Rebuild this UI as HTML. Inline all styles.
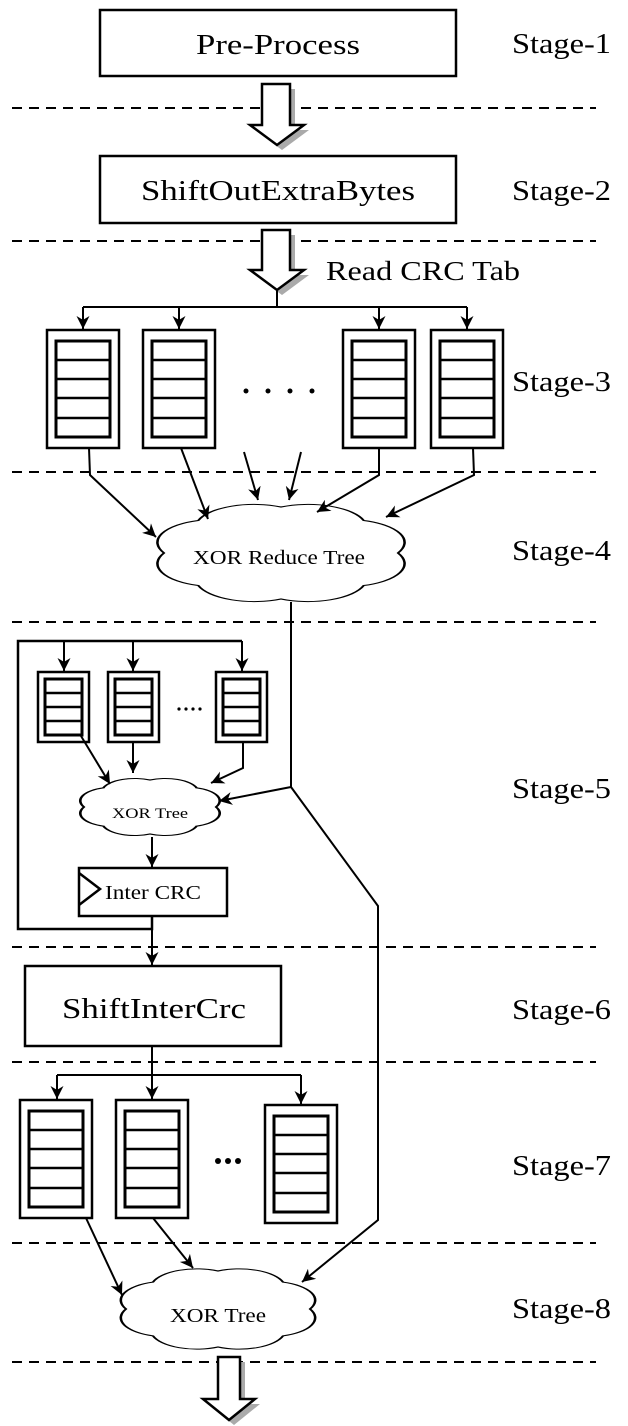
<!DOCTYPE html>
<html><head><style>html,body{margin:0;padding:0;background:#fff}svg{display:block}text{font-family:"Liberation Serif",serif;fill:#000}</style></head>
<body>
<svg width="628" height="1426" viewBox="0 0 628 1426" xmlns="http://www.w3.org/2000/svg">
<defs>
<marker id="a" markerWidth="13" markerHeight="13" refX="10" refY="5" orient="auto" markerUnits="userSpaceOnUse" viewBox="0 0 10 10">
<path d="M0,0 L10,5 L0,10 L3,5 z" fill="#000"/></marker>
<path id="cl" d="M-1,0 A0.5,0.5 0 0 1 -0.707,-0.707 A0.5,0.5 0 0 1 0,-1 A0.5,0.5 0 0 1 0.707,-0.707 A0.5,0.5 0 0 1 1,0 A0.5,0.5 0 0 1 0.707,0.707 A0.5,0.5 0 0 1 0,1 A0.5,0.5 0 0 1 -0.707,0.707 A0.5,0.5 0 0 1 -1,0 Z"/>
<g id="q5"><rect x="0" y="0" width="72" height="118" fill="#fff" stroke="#000" stroke-width="2.5"/><rect x="9" y="11" width="54" height="96" fill="#fff" stroke="#000" stroke-width="3"/><path d="M9,30 H63 M9,49 H63 M9,68 H63 M9,88 H63" stroke="#000" stroke-width="2.5"/></g>
<g id="q4"><rect x="0" y="0" width="51" height="70" fill="#fff" stroke="#000" stroke-width="2.5"/><rect x="7" y="7" width="37" height="56" fill="#fff" stroke="#000" stroke-width="3"/><path d="M7,21 H44 M7,35 H44 M7,49 H44" stroke="#000" stroke-width="2.5"/></g>
</defs>
<g stroke="#000" stroke-width="2" stroke-dasharray="10,7">
<path d="M12,108 H596 M12,241 H596 M12,472 H596 M12,622 H596 M12,947 H596 M12,1062 H596 M12,1243 H596 M12,1362 H596"/>
</g>
<!-- stage 1 -->
<rect x="100" y="10" width="356" height="66" fill="#fff" stroke="#000" stroke-width="2.5"/>
<text x="196" y="54" font-size="28" textLength="164" lengthAdjust="spacingAndGlyphs">Pre-Process</text>
<polygon points="267,89 295,89 295,130 309,130 282,150 255,130 267,130" fill="#aaa"/>
<polygon points="262,84 290,84 290,125 304,125 277,145 250,125 262,125" fill="#fff" stroke="#000" stroke-width="2.5"/>
<!-- stage 2 -->
<rect x="100" y="156" width="356" height="67" fill="#fff" stroke="#000" stroke-width="2.5"/>
<text x="141" y="200" font-size="28" textLength="274" lengthAdjust="spacingAndGlyphs">ShiftOutExtraBytes</text>
<polygon points="267,235 295,235 295,275 309,275 282,295 255,275 267,275" fill="#aaa"/>
<polygon points="262,230 290,230 290,270 304,270 277,290 250,270 262,270" fill="#fff" stroke="#000" stroke-width="2.5"/>
<text x="326" y="280" font-size="27" textLength="194" lengthAdjust="spacingAndGlyphs">Read CRC Tab</text>
<g stroke="#000" stroke-width="2" fill="none">
<path d="M277,290 V307 M83,307 H467"/>
<path d="M83,307 V329" marker-end="url(#a)"/>
<path d="M179,307 V329" marker-end="url(#a)"/>
<path d="M379,307 V329" marker-end="url(#a)"/>
<path d="M467,307 V329" marker-end="url(#a)"/>
</g>
<use href="#q5" x="47" y="330"/><use href="#q5" x="143" y="330"/><use href="#q5" x="343" y="330"/><use href="#q5" x="431" y="330"/>
<g fill="#000"><circle cx="246" cy="391" r="2.5"/><circle cx="268" cy="391" r="2.5"/><circle cx="290" cy="391" r="2.5"/><circle cx="312" cy="391" r="2.5"/></g>
<!-- stage 4 -->
<use href="#cl" transform="translate(281,553) scale(117,46)" fill="#fff" stroke="#000" style="stroke-width:0.022"/>
<g stroke="#000" stroke-width="2" fill="none">
<path d="M89,448 L90,475 L156,537" marker-end="url(#a)"/>
<path d="M181,448 L208,519" marker-end="url(#a)"/>
<path d="M244,452 L258,500" marker-end="url(#a)"/>
<path d="M301,452 L289,500" marker-end="url(#a)"/>
<path d="M379,448 V475 L317,512" marker-end="url(#a)"/>
<path d="M473,448 L474,475 L386,517" marker-end="url(#a)"/>
</g>
<text x="193" y="564" font-size="20" textLength="172" lengthAdjust="spacingAndGlyphs">XOR Reduce Tree</text>
<!-- stage 5 -->
<g stroke="#000" stroke-width="2" fill="none">
<path d="M291,602 V787 L378,906 V1220 L302,1282" marker-end="url(#a)"/>
<path d="M291,787 L219,801" marker-end="url(#a)"/>
<path d="M152,916 V929 H18 V641 H242" stroke-width="2.5"/>
<path d="M64,641 V671" marker-end="url(#a)"/>
<path d="M133,641 V671" marker-end="url(#a)"/>
<path d="M242,641 V671" marker-end="url(#a)"/>
</g>
<use href="#q4" x="38" y="672"/><use href="#q4" x="108" y="672"/><use href="#q4" x="216" y="672"/>
<g fill="#000"><circle cx="179" cy="709" r="1.6"/><circle cx="186" cy="709" r="1.6"/><circle cx="193" cy="709" r="1.6"/><circle cx="200" cy="709" r="1.6"/></g>
<use href="#cl" transform="translate(150,807) scale(66,27)" fill="#fff" stroke="#000" style="stroke-width:0.04"/>
<g stroke="#000" stroke-width="2" fill="none">
<path d="M81,736 L110,784" marker-end="url(#a)"/>
<path d="M133,742 V773" marker-end="url(#a)"/>
<path d="M243,742 V768 L211,783" marker-end="url(#a)"/>
<path d="M152,837 V867" marker-end="url(#a)"/>
<path d="M152,916 V965" marker-end="url(#a)"/>
</g>
<text x="112" y="818" font-size="15" textLength="76" lengthAdjust="spacingAndGlyphs">XOR Tree</text>
<rect x="79" y="868" width="148" height="48" fill="#fff" stroke="#000" stroke-width="2.5"/>
<path d="M79,873 L100,889 L79,905" fill="none" stroke="#000" stroke-width="2.5"/>
<text x="105" y="899" font-size="20" textLength="96" lengthAdjust="spacingAndGlyphs">Inter CRC</text>
<!-- stage 6 -->
<rect x="25" y="966" width="256" height="80" fill="#fff" stroke="#000" stroke-width="2.5"/>
<text x="62" y="1018" font-size="28" textLength="184" lengthAdjust="spacingAndGlyphs">ShiftInterCrc</text>
<g stroke="#000" stroke-width="2" fill="none">
<path d="M152,1046 V1075 M57,1075 H301"/>
<path d="M57,1075 V1099" marker-end="url(#a)"/>
<path d="M152,1075 V1099" marker-end="url(#a)"/>
<path d="M301,1075 V1104" marker-end="url(#a)"/>
</g>
<use href="#q5" x="20" y="1100"/><use href="#q5" x="116" y="1100"/><use href="#q5" x="265" y="1105"/>
<g fill="#000"><circle cx="218" cy="1161" r="3"/><circle cx="228" cy="1161" r="3"/><circle cx="238" cy="1161" r="3"/></g>
<!-- stage 8 -->
<use href="#cl" transform="translate(218,1309) scale(92,38)" fill="#fff" stroke="#000" style="stroke-width:0.028"/>
<g stroke="#000" stroke-width="2" fill="none">
<path d="M86,1218 L122,1295" marker-end="url(#a)"/>
<path d="M153,1218 L193,1268" marker-end="url(#a)"/>
</g>
<text x="170" y="1322" font-size="20" textLength="96" lengthAdjust="spacingAndGlyphs">XOR Tree</text>
<polygon points="223,1362 245,1362 245,1404 260,1404 234,1425 208,1404 223,1404" fill="#aaa"/>
<polygon points="218,1357 240,1357 240,1399 255,1399 229,1420 203,1399 218,1399" fill="#fff" stroke="#000" stroke-width="2.5"/>
<!-- stage labels -->
<g font-size="28">
<text x="512" y="53" textLength="99" lengthAdjust="spacingAndGlyphs">Stage-1</text>
<text x="512" y="200" textLength="99" lengthAdjust="spacingAndGlyphs">Stage-2</text>
<text x="512" y="391" textLength="99" lengthAdjust="spacingAndGlyphs">Stage-3</text>
<text x="512" y="560" textLength="99" lengthAdjust="spacingAndGlyphs">Stage-4</text>
<text x="512" y="798" textLength="99" lengthAdjust="spacingAndGlyphs">Stage-5</text>
<text x="512" y="1019" textLength="99" lengthAdjust="spacingAndGlyphs">Stage-6</text>
<text x="512" y="1175" textLength="99" lengthAdjust="spacingAndGlyphs">Stage-7</text>
<text x="512" y="1318" textLength="99" lengthAdjust="spacingAndGlyphs">Stage-8</text>
</g>
</svg>
</body></html>
